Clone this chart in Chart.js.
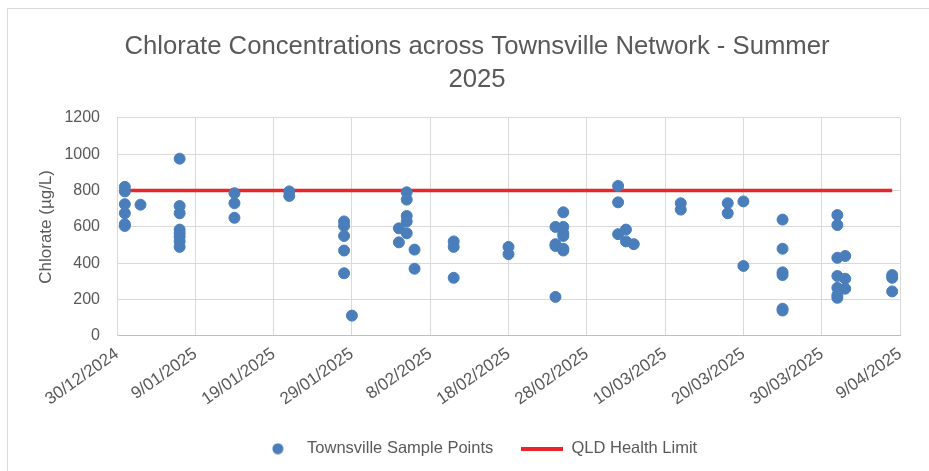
<!DOCTYPE html>
<html>
<head>
<meta charset="utf-8">
<script src="https://cdn.jsdelivr.net/npm/chart.js@4"></script>
<style>
  html, body { margin: 0; padding: 0; background: #fff; overflow: hidden; }
  #wrap { position: absolute; left: 7px; top: 8px; width: 922px; height: 470px; border-left: 1px solid #d9d9d9; border-top: 1px solid #d9d9d9; }
</style>
</head>
<body>
<div id="wrap"><canvas id="chlorateChart"></canvas></div>
<script>
// Sample dates and the chlorate readings (µg/L) taken on each one.
const sampleDates = [
  '2024-12-31', '2025-01-02', '2025-01-07', '2025-01-14', '2025-01-21', '2025-01-28',
  '2025-01-29', '2025-02-04', '2025-02-05', '2025-02-06', '2025-02-11', '2025-02-18',
  '2025-02-24', '2025-02-25', '2025-03-04', '2025-03-05', '2025-03-06', '2025-03-12',
  '2025-03-18', '2025-03-20', '2025-03-25', '2025-04-01', '2025-04-02', '2025-04-08'
];
const sampleReadings = [
  [820, 795, 725, 675, 615, 605],
  [722],
  [975, 715, 675, 585, 565, 545, 520, 490],
  [785, 730, 650],
  [795, 770],
  [630, 605, 550, 470, 345],
  [112],
  [592, 515],
  [790, 750, 660, 630, 565],
  [475, 370],
  [520, 490, 320],
  [490, 450],
  [600, 505, 495, 215],
  [680, 600, 565, 550, 480, 470],
  [825, 735, 560],
  [585, 520],
  [505],
  [730, 695],
  [730, 675],
  [740, 385],
  [640, 480, 350, 335, 150, 140],
  [665, 610, 430, 330, 265, 225, 210],
  [440, 315, 260],
  [335, 320, 245]
];

// QLD health guideline line
const limitDates = ['2024-12-31', '2025-04-08'];
const limitValues = [800, 800];

// Axis settings
const axisStart = '2024-12-30';
const axisDays = 100;
const axisStepDays = 10;
const yTicks = [0, 200, 400, 600, 800, 1000, 1200];

const DAY = 86400000;
const base = Date.parse(axisStart);
const toDay = s => (Date.parse(s) - base) / DAY;

function fmtDate(day) {
  const d = new Date(base + day * DAY);
  const mm = String(d.getUTCMonth() + 1).padStart(2, '0');
  return d.getUTCDate() + '/' + mm + '/' + d.getUTCFullYear();
}

const samplePoints = [];
sampleDates.forEach((date, i) => {
  sampleReadings[i].forEach(v => samplePoints.push({ x: toDay(date), y: v }));
});
const limitPoints = limitDates.map((d, i) => ({ x: toDay(d), y: limitValues[i] }));

// legend icons: a dot and a short thick line, both in a box as wide as the line
function legendIcon(kind) {
  const c = document.createElement('canvas');
  const g = c.getContext('2d');
  if (kind === 'dot') {
    c.width = 12; c.height = 12;
    g.fillStyle = '#4a7ebb';
    g.beginPath(); g.arc(6, 6, 5.5, 0, Math.PI * 2); g.fill();
  } else {
    c.width = 42; c.height = 4;
    g.fillStyle = '#e8262a';
    g.fillRect(0, 0, 42, 4);
  }
  return c;
}
const legendIcons = [legendIcon('dot'), legendIcon('line')];

// Excel centres title and legend on its own (wider) frame, so nudge them
const frameNudge = {
  id: 'frameNudge',
  afterLayout(chart) {
    const t = chart.titleBlock, lg = chart.legend;
    t.left += 17; t.right += 17;
    lg.left += 17; lg.right += 17;
    lg.top -= 5; lg.bottom -= 5;
  }
};

const grey = '#595959';
const font = 'Liberation Sans';

new Chart(document.getElementById('chlorateChart'), {
  type: 'scatter',
  data: {
    datasets: [
      {
        label: 'Townsville Sample Points',
        data: samplePoints,
        backgroundColor: '#4a7ebb',
        borderColor: '#4a7ebb',
        pointRadius: 5.5,
        pointHoverRadius: 5.5,
        order: 1
      },
      {
        label: 'QLD Health Limit',
        type: 'line',
        data: limitPoints,
        borderColor: '#e8262a',
        backgroundColor: '#e8262a',
        borderWidth: 3.5,
        pointRadius: 0,
        fill: false,
        order: 2
      }
    ]
  },
  options: {
    responsive: true,
    maintainAspectRatio: false,
    animation: false,
    layout: { padding: { left: 12, right: 30, top: 22, bottom: 7 } },
    plugins: {
      title: {
        display: true,
        text: ['Chlorate Concentrations across Townsville Network - Summer', '2025'],
        color: grey,
        font: { family: font, size: 25.7, weight: 'normal', lineHeight: 1.26 },
        padding: { top: 0, bottom: 22 }
      },
      legend: {
        position: 'bottom',
        labels: {
          color: grey,
          font: { family: font, size: 16.5 },
          usePointStyle: true,
          pointStyleWidth: 42,
          padding: 28,
          generateLabels: chart =>
            Chart.defaults.plugins.legend.labels.generateLabels(chart)
              .map((item, i) => ({ ...item, pointStyle: legendIcons[i] }))
        }
      },
      tooltip: { enabled: false }
    },
    scales: {
      x: {
        type: 'linear',
        min: 0,
        max: axisDays,
        grid: { color: '#d9d9d9', tickLength: 0 },
        border: { color: '#bfbfbf' },
        ticks: {
          stepSize: axisStepDays,
          color: grey,
          font: { family: font, size: 17 },
          minRotation: 35,
          maxRotation: 35,
          padding: 8,
          callback: v => fmtDate(v)
        }
      },
      y: {
        min: yTicks[0],
        max: yTicks[yTicks.length - 1],
        afterFit: scale => { scale.width = 97; },
        grid: { color: '#d9d9d9', tickLength: 0 },
        border: { color: '#d9d9d9' },
        ticks: {
          stepSize: yTicks[1] - yTicks[0],
          color: grey,
          font: { family: font, size: 16 },
          padding: 17,
          callback: v => String(v)
        },
        title: {
          display: true,
          text: 'Chlorate (µg/L)',
          color: grey,
          font: { family: font, size: 17 },
          padding: { top: 16, bottom: 4 }
        }
      }
    }
  },
  plugins: [frameNudge]
});
</script>
</body>
</html>
